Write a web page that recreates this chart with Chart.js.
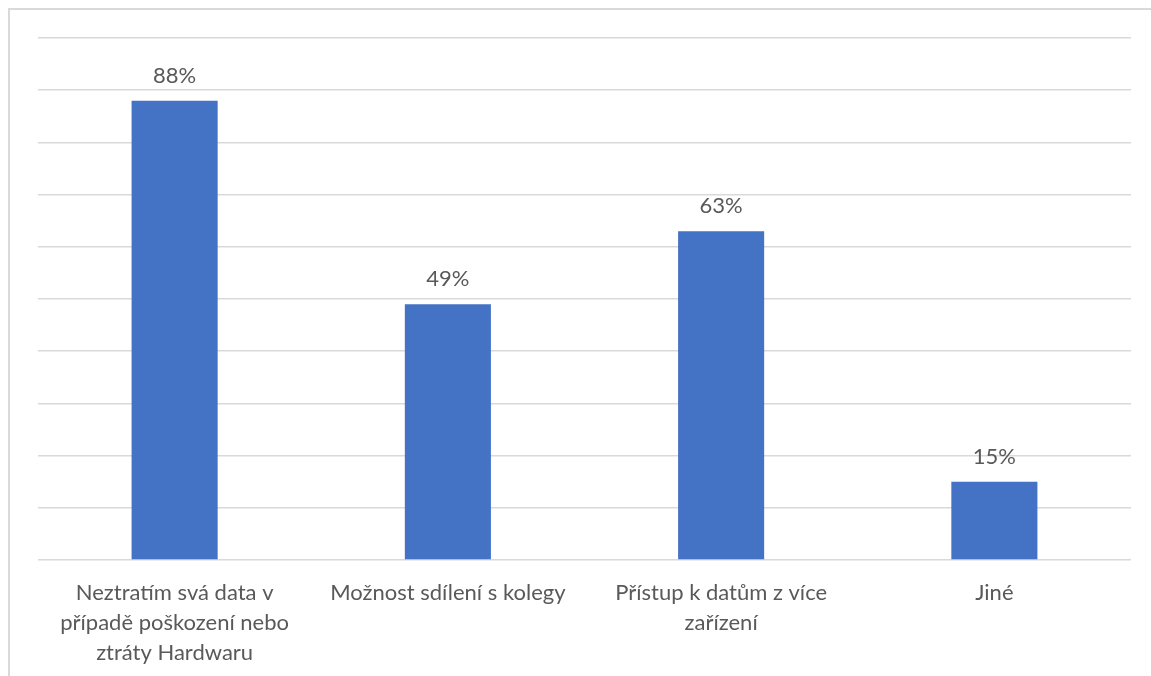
<!DOCTYPE html>
<html>
<head>
<meta charset="utf-8">
<script src="https://cdn.jsdelivr.net/npm/chart.js@4/dist/chart.umd.min.js"></script>
<style>
  html, body { margin: 0; padding: 0; background: #fff; }
  #wrap { position: relative; width: 1151px; height: 676px; overflow: hidden; }
  #frame {
    position: absolute; left: 8px; top: 8px; width: 1200px; height: 700px;
    border-left: 2px solid #d9d9d9; border-top: 2px solid #d9d9d9;
    box-sizing: border-box;
  }
  canvas { position: absolute; left: 0; top: 0; }
</style>
</head>
<body>
<div id="wrap">
  <div id="frame"></div>
  <canvas id="chart" width="1151" height="676"></canvas>
</div>
<script>
const categories = [
  ['Neztratím svá data v', 'případě poškození nebo', 'ztráty Hardwaru'],
  'Možnost sdílení s kolegy',
  ['Přístup k datům z více', 'zařízení'],
  'Jiné'
];
const shares = [88, 49, 63, 15];

const FONT = 'Lato, "Open Sans", sans-serif';
const TEXT = '#595959';

// percentage printed above each bar
const valueLabels = {
  id: 'valueLabels',
  afterDatasetsDraw(chart) {
    const ctx = chart.ctx;
    const meta = chart.getDatasetMeta(0);
    ctx.save();
    ctx.font = '22px ' + FONT;
    ctx.fillStyle = TEXT;
    ctx.textAlign = 'center';
    ctx.textBaseline = 'middle';
    meta.data.forEach((bar, i) => {
      ctx.fillText(shares[i] + '%', bar.x, bar.y - 25);
    });
    ctx.restore();
  }
};

new Chart(document.getElementById('chart'), {
  type: 'bar',
  data: {
    labels: categories,
    datasets: [{
      data: shares,
      backgroundColor: '#4472c4',
      borderWidth: 0,
      barPercentage: 1,
      categoryPercentage: 0.315
    }]
  },
  options: {
    responsive: false,
    animation: false,
    layout: { padding: { left: 38, right: 20, top: 38, bottom: 0 } },
    plugins: { legend: { display: false }, tooltip: { enabled: false } },
    scales: {
      x: {
        grid: { display: false },
        border: { display: false },
        ticks: {
          color: TEXT,
          font: { family: FONT, size: 22, lineHeight: 1.364 },
          padding: 10,
          maxRotation: 0,
          autoSkip: false
        },
        afterFit: s => { s.height = 116; }
      },
      y: {
        min: 0,
        max: 100,
        ticks: { display: false, stepSize: 10 },
        grid: { color: '#d9d9d9', lineWidth: 1.5, drawTicks: false },
        border: { display: false },
        afterFit: s => { s.width = 0; }
      }
    }
  },
  plugins: [valueLabels]
});
</script>
</body>
</html>
